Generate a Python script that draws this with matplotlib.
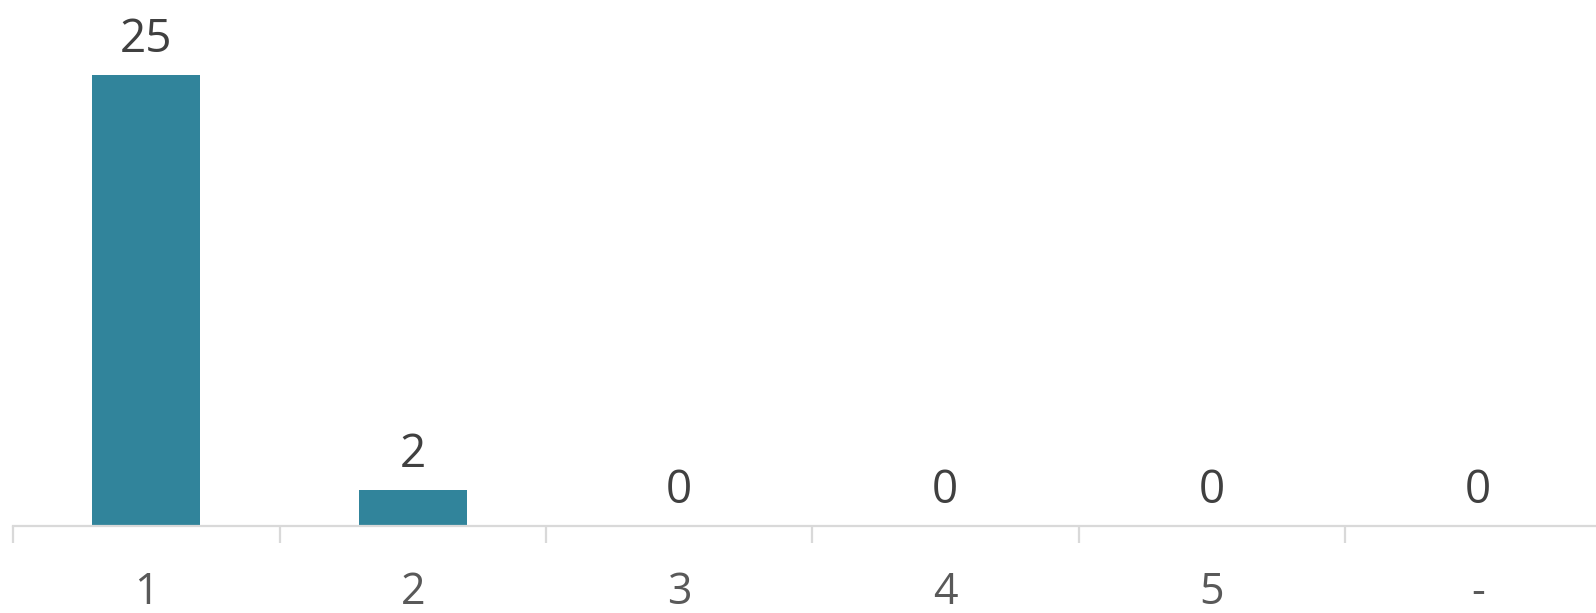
import matplotlib
matplotlib.use("Agg")
from matplotlib import pyplot as plt
import numpy as np

categories = ["1", "2", "3", "4", "5", "-"]
counts = [25, 2, 0, 0, 0, 0]

bar_color = "#31849B"
axis_color = "#D9D9D9"

plt.rcParams["font.family"] = ["Open Sans", "DejaVu Sans"]

fig = plt.figure(figsize=(15.96, 6.13), dpi=100)
# axes run a little past the right edge so the last category is cut off
ax = fig.add_axes([13.2 / 1596, 86.7 / 613, 1598 / 1596, 526.3 / 613])

x = np.arange(len(categories))
bars = ax.bar(x, counts, width=0.405, color=bar_color, zorder=2)

ax.set_xlim(-0.5, len(categories) - 0.5)
ax.set_ylim(0, 29.17)

for xi, v in zip(x, counts):
    ax.annotate(str(v), (xi, v), xytext=(0, 17), textcoords="offset points",
                ha="center", va="baseline", fontsize=33, color="#404040")

for s in ["top", "right", "left"]:
    ax.spines[s].set_visible(False)
ax.spines["bottom"].set_color(axis_color)
ax.spines["bottom"].set_linewidth(1.6)

ax.set_yticks([])
ax.set_xticks(np.arange(len(categories) + 1) - 0.5, minor=True)
ax.set_xticks(x)
ax.set_xticklabels(categories, fontsize=31, color="#595959")
ax.tick_params(axis="x", which="major", length=0, pad=32)
ax.tick_params(axis="x", which="minor", length=12, width=1.6, color=axis_color)

fig.savefig("out.png", dpi=100)
